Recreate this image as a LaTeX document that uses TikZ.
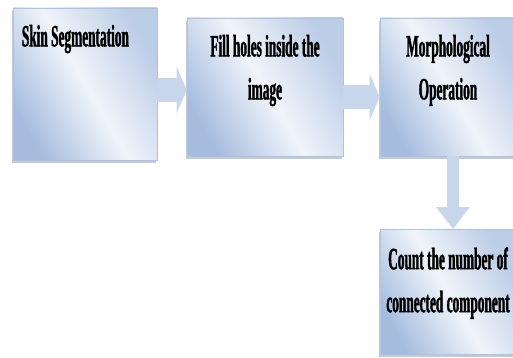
\documentclass[tikz,border=0pt]{standalone}
\usepackage{fontspec}
\usepackage{tikz}
\usetikzlibrary{
  arrows.meta,
  positioning,
  shadows
}
\newfontfamily\boxfont[FakeStretch=0.43,FakeBold=1.2]{Liberation Serif}
\definecolor{boxblue}{RGB}{166,188,222}
\definecolor{boxlight}{RGB}{240,244,250}
\definecolor{boxedge}{RGB}{176,194,222}
\definecolor{arrowblue}{RGB}{200,214,235}
\tikzset{
  stepbox/.style={rectangle, draw=boxedge, line width=0.6pt,
    left color=boxblue, right color=boxblue!75, middle color=boxlight,
    shading angle=120,
    drop shadow={shadow xshift=-1pt, shadow yshift=-3pt, fill=boxblue!80!black, opacity=.5}},
  steptext/.style={inner sep=0pt, align=center, text=black,
    font=\boxfont\bfseries\fontsize{31}{43}\selectfont},
  sidearrow/.style={draw=arrowblue, line width=24pt, -{Triangle[length=10pt,width=46pt]}},
  downarrow/.style={draw=arrowblue, line width=12pt, -{Triangle[length=22pt,width=32pt]}}
}
\begin{document}
\begin{tikzpicture}[x=1pt,y=1pt]
	\useasboundingbox (0,0) rectangle (513,358);
	\node[stepbox, minimum width=144pt, minimum height=152pt] (skin) at (85,274) {};
	\node[stepbox, minimum width=156pt, minimum height=138pt] (fill) at (265,271) {};
	\node[stepbox, minimum width=136pt, minimum height=138pt] (morph) at (448,271) {};
	\node[stepbox, minimum width=136pt, minimum height=125pt] (count) at (448,66) {};
	% labels
	\node[steptext, below right=17pt and 9pt of skin.north west, anchor=north west] (skinlabel) {Skin Segmentation};
	\node[steptext, below=17pt of fill.north] (filllabel) {Fill holes inside the\\image};
	\node[steptext, below=17pt of morph.north] (morphlabel) {Morphological\\Operation};
	\node[steptext, below=18pt of count.north] (countlabel) {Count the number of\\connected component};
	% arrows
	\draw[sidearrow] ([yshift=-6pt]skin.east) -- ([yshift=-6pt]skin.east -| fill.west);
	\draw[sidearrow] ([yshift=-10pt]morph.west -| fill.east) -- ([yshift=-10pt]morph.west);
	\draw[downarrow] ([xshift=5pt]morph.south) -- ([xshift=5pt]count.north);
\end{tikzpicture}
\end{document}
